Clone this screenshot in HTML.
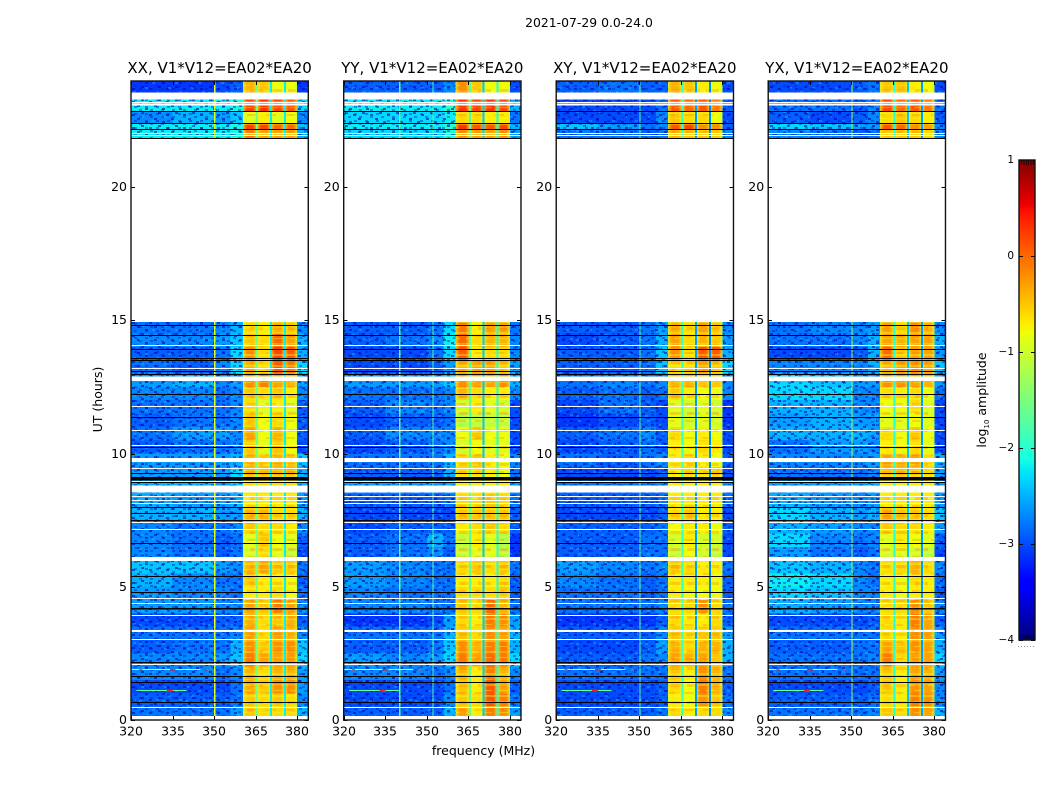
<!DOCTYPE html>
<html>
<head>
<meta charset="utf-8">
<title>Dynamic spectra 2021-07-29</title>
<style>
html,body{margin:0;padding:0;background:#fff;width:1050px;height:800px;overflow:hidden}
svg{display:block}
text{font-family:"DejaVu Sans","Liberation Sans",sans-serif;fill:#000}
</style>
</head>
<body>
<svg id="fig" width="1050" height="800" viewBox="0 0 1050 800" xmlns="http://www.w3.org/2000/svg">
<defs>
<pattern id="specA" width="17" height="13" patternUnits="userSpaceOnUse">
<g fill="#0000a8" fill-opacity="0.6"><rect x="1" y="1" width="3" height="2"/><rect x="9" y="4" width="3" height="2"/><rect x="5" y="8" width="3" height="2"/><rect x="13" y="10" width="3" height="2"/></g>
</pattern>
<pattern id="specB" width="23" height="19" patternUnits="userSpaceOnUse">
<g fill="#20c8ff" fill-opacity="0.35"><rect x="3" y="2" width="3" height="2"/><rect x="14" y="6" width="3" height="2"/><rect x="7" y="11" width="3" height="2"/><rect x="18" y="15" width="3" height="2"/><rect x="1" y="16" width="3" height="2"/></g>
</pattern>
<pattern id="specC" width="11" height="7" patternUnits="userSpaceOnUse">
<g fill="#0010c8" fill-opacity="0.42"><rect x="2" y="1" width="3" height="2"/><rect x="7" y="4" width="3" height="2"/></g>
</pattern>
<pattern id="bandStreakA" width="16" height="11" patternUnits="userSpaceOnUse">
<g fill="#f4ff30" fill-opacity="0.38"><rect x="0" y="2" width="16" height="2"/><rect x="2" y="8" width="10" height="1"/></g>
</pattern>
<pattern id="bandStreakB" width="19" height="17" patternUnits="userSpaceOnUse">
<g fill="#ff7000" fill-opacity="0.28"><rect x="3" y="4" width="13" height="3"/><rect x="0" y="12" width="10" height="2"/></g>
</pattern>
<linearGradient id="bandEdge" x1="0" x2="1" y1="0" y2="0">
<stop offset="0" stop-color="#d8ff30" stop-opacity="0.7"/>
<stop offset="0.28" stop-color="#e8ff30" stop-opacity="0"/>
<stop offset="0.72" stop-color="#e8ff30" stop-opacity="0"/>
<stop offset="1" stop-color="#b8ff50" stop-opacity="0.75"/>
</linearGradient>
</defs>
<text x="589" y="27" font-size="12.4" text-anchor="middle">2021-07-29 0.0-24.0</text>
<text x="483.500" y="755" font-size="12.5" text-anchor="middle">frequency (MHz)</text>
<text x="0" y="0" font-size="12.5" text-anchor="middle" transform="translate(102 399.500) rotate(-90)">UT (hours)</text>
<text x="0" y="0" font-size="12.5" text-anchor="middle" transform="translate(986 400) rotate(-90)">log<tspan font-size="7" dy="3">10</tspan><tspan dy="-3"> amplitude</tspan></text>
</svg>
<script>
var panelNames = ["XX", "YY", "XY", "YX"];
var panelLefts = [131, 343.7, 556.2, 768.2];
var xTickValues = [320, 335, 350, 365, 380];
var yTickValues = [0, 5, 10, 15, 20];
var colorbarTicks = [1, 0, -1, -2, -3, -4];

/* frequency bins (MHz) of each heatmap column */
var freqStart = [320, 335, 350, 356, 360.4, 365.5, 370.5, 375.5, 380];
var freqEnd = [335, 350, 356, 360.4, 365.5, 370.5, 375.5, 380, 384];
var offBandColumns = [0, 1, 2, 3, 8];
var offBandCalibration = -0.1;

/* UT bins (hours) of each heatmap row */
var utStart = [0,0.5,1,1.5,2,2.5,3,3.5,4,4.5,5,5.5,6,6.5,7,7.5,8,8.5,9,9.5,10,10.5,11,11.5,12,12.5,13,13.5,14,14.5,21.84,22.16,22.39,22.84,23.54];
var utEnd = [0.5,1,1.5,2,2.5,3,3.5,4,4.5,5,5.5,6,6.5,7,7.5,8,8.5,9,9.5,10,10.5,11,11.5,12,12.5,13,13.5,14,14.5,14.93,22.16,22.39,22.84,23.54,23.98];

/* log10 amplitude, one row per UT bin, one value per frequency bin */
var valuesXX = [
[-2.7,-2.7,-2.7,-2.5,-0.5,-0.6,-0.6,-0.6,-2.4],
[-2.8,-2.8,-2.8,-2.7,-0.5,-0.6,-0.5,-0.6,-2.6],
[-2.9,-2.9,-2.9,-2.7,-0.35,-0.5,-0.2,-0.2,-2.5],
[-2.6,-2.6,-2.7,-2.6,-0.4,-0.6,-0.4,-0.4,-2.5],
[-2.6,-2.6,-2.5,-2.3,-0.1,-0.3,-0.3,-0.3,-2.2],
[-2.8,-2.7,-2.7,-2.4,-0.2,-0.5,-0.2,-0.2,-2.3],
[-2.7,-2.7,-2.7,-2.6,-0.3,-0.6,-0.3,-0.4,-2.6],
[-2.9,-2.9,-2.8,-2.8,-0.4,-0.6,-0.5,-0.4,-2.8],
[-2.5,-2.5,-2.6,-2.6,-0.3,-0.5,-0.1,-0.3,-2.6],
[-2.5,-2.6,-2.6,-2.7,-0.7,-0.7,-0.6,-0.8,-2.7],
[-2.4,-2.6,-2.7,-2.7,-0.5,-0.7,-0.7,-0.8,-2.8],
[-2.3,-2.3,-2.5,-2.6,-0.4,-0.3,-0.5,-0.5,-2.7],
[-2.6,-2.7,-2.8,-2.7,-1,-0.6,-0.9,-1.1,-2.9],
[-2.6,-2.7,-2.8,-2.7,-0.9,-0.5,-0.8,-0.9,-2.8],
[-2.6,-2.7,-2.7,-2.6,-0.5,-0.6,-0.6,-0.7,-2.6],
[-2.4,-2.4,-2.5,-2.5,-0.4,-0.4,-0.6,-0.6,-2.4],
[-2.4,-2.5,-2.5,-2.4,-0.7,-0.7,-0.7,-0.7,-2.5],
[-2.4,-2.4,-2.5,-2.3,-0.6,-0.6,-0.6,-0.6,-2.4],
[-2.5,-2.5,-2.5,-2.2,-0.4,-0.4,-0.4,-0.4,-2.4],
[-2.5,-2.5,-2.5,-2.4,-0.4,-0.5,-0.4,-0.5,-2.3],
[-2.8,-2.7,-2.7,-2.6,-0.5,-0.9,-0.5,-0.8,-2.9],
[-2.7,-2.5,-2.5,-2.6,-0.3,-0.8,-0.4,-0.8,-2.8],
[-2.8,-2.7,-2.7,-2.6,-0.5,-0.8,-0.6,-0.8,-2.8],
[-2.7,-2.7,-2.7,-2.6,-0.6,-0.9,-0.7,-0.9,-2.8],
[-2.6,-2.6,-2.7,-2.6,-0.5,-0.6,-0.5,-0.7,-2.6],
[-2.5,-2.4,-2.6,-2.5,-0.2,-0.1,-0.3,-0.4,-2.5],
[-2.7,-2.8,-2.6,-2.2,-0.4,-0.6,0.1,-0.1,-2.2],
[-2.8,-2.8,-2.7,-2.2,-0.2,-0.6,0.2,0.1,-2.4],
[-2.6,-2.6,-2.5,-2.3,-0.5,-0.6,0,-0.3,-2.4],
[-2.7,-2.7,-2.6,-2.4,-0.6,-0.7,-0.4,-0.5,-2.6],
[-2.1,-2.1,-2.1,-2.0,-0.1,-0.3,-0.3,-0.3,-2.4],
[-2.1,-2.1,-2.1,-2.0,0.2,0.2,0,0,-2.3],
[-2.6,-2.4,-2.5,-2.3,-0.9,-0.7,-0.9,-0.8,-2.6],
[-2.1,-2.1,-2.1,-2.0,0.2,0.3,0.2,0.1,-2.2],
[-3,-3,-2.9,-2.8,-0.4,-0.5,-0.8,-0.8,-3]
];
var valuesYY = [
[-2.8,-2.8,-2.8,-2.4,-0.3,-0.7,-0.1,-0.2,-2.5],
[-2.9,-2.9,-2.9,-2.6,-0.5,-0.6,0.1,-0.1,-2.7],
[-2.9,-2.9,-2.9,-2.7,-0.5,-0.7,0.1,-0.3,-2.8],
[-2.6,-2.6,-2.7,-2.6,-0.4,-0.7,-0.1,-0.4,-2.6],
[-2.5,-2.6,-2.5,-2.2,-0.1,-0.3,0,-0.1,-2.2],
[-2.8,-2.8,-2.7,-2.3,-0.2,-0.4,-0.1,-0.1,-2.4],
[-2.7,-2.7,-2.7,-2.4,-0.5,-0.6,-0.2,-0.3,-2.4],
[-3,-3,-2.9,-2.5,-0.6,-0.7,-0.1,-0.2,-2.5],
[-2.6,-2.6,-2.7,-2.7,-0.5,-0.6,0,-0.4,-2.7],
[-2.6,-2.7,-2.7,-2.7,-0.6,-0.6,-0.6,-0.5,-2.8],
[-2.5,-2.6,-2.7,-2.7,-0.7,-0.7,-0.7,-0.6,-2.8],
[-2.5,-2.6,-2.7,-2.7,-0.6,-0.5,-0.6,-0.5,-2.7],
[-2.8,-2.7,-2.6,-2.8,-1.1,-0.9,-0.9,-1.2,-3],
[-2.8,-2.7,-2.4,-2.7,-1.1,-0.7,-0.9,-1.2,-3],
[-2.9,-2.8,-2.8,-2.8,-0.7,-0.6,-0.5,-0.6,-2.8],
[-2.9,-2.9,-2.9,-2.9,-0.5,-0.5,-0.5,-0.5,-2.8],
[-2.8,-2.8,-2.8,-2.7,-0.6,-0.6,-0.5,-0.6,-2.7],
[-2.5,-2.5,-2.5,-2.4,-0.7,-0.7,-0.7,-0.7,-2.5],
[-2.8,-2.8,-2.8,-2.4,-0.6,-0.6,-0.7,-0.8,-2.7],
[-2.7,-2.7,-2.7,-2.4,-0.6,-0.5,-0.7,-0.8,-2.6],
[-2.9,-2.8,-2.7,-2.6,-1,-0.8,-0.9,-0.9,-2.9],
[-2.8,-2.6,-2.6,-2.6,-0.8,-0.5,-0.8,-0.8,-2.9],
[-2.9,-2.8,-2.8,-2.7,-1.2,-1.1,-1.1,-1.1,-2.9],
[-2.8,-2.6,-2.7,-2.6,-1,-0.7,-0.9,-1,-2.9],
[-2.7,-2.7,-2.7,-2.6,-0.4,-0.6,-0.7,-0.7,-2.6],
[-2.5,-2.5,-2.5,-2.3,-0.2,-0.3,-0.3,-0.2,-2.4],
[-2.9,-2.9,-2.8,-2.5,-0.4,-0.3,-0.3,-0.5,-2.5],
[-2.9,-2.9,-2.7,-2.2,0.1,-0.7,-0.6,-0.6,-2.6],
[-2.8,-2.7,-2.6,-2.1,0,-0.6,-0.4,-0.4,-2.6],
[-2.8,-2.8,-2.7,-2.2,-0.1,-0.7,-0.3,-0.3,-2.7],
[-2.2,-2.2,-2.2,-2,-0.2,-0.3,-0.3,-0.2,-2.5],
[-2.1,-2.1,-2.1,-1.9,0.3,0.1,0.1,0.2,-2.4],
[-2.2,-2.2,-2.2,-2.1,-0.6,-0.6,-0.7,-0.7,-2.7],
[-2.1,-2.1,-2.1,-1.9,0.3,0.2,0.3,0.2,-2.4],
[-2.8,-2.8,-2.8,-2.6,-0.2,-0.5,-0.8,-0.8,-2.9]
];
var valuesXY = [
[-2.8,-2.8,-2.8,-2.7,-0.6,-0.7,-0.6,-0.6,-2.6],
[-2.9,-2.9,-2.9,-2.8,-0.7,-0.8,-0.2,-0.5,-2.7],
[-2.9,-2.9,-2.9,-2.8,-0.6,-0.8,-0.1,-0.4,-2.8],
[-2.7,-2.7,-2.7,-2.7,-0.5,-0.7,-0.2,-0.4,-2.7],
[-2.8,-2.8,-2.7,-2.6,-0.3,-0.4,-0.3,-0.5,-2.4],
[-2.9,-2.9,-2.8,-2.5,-0.4,-0.6,-0.4,-0.4,-2.4],
[-2.8,-2.8,-2.8,-2.6,-0.5,-0.6,-0.5,-0.5,-2.5],
[-3,-3,-3,-2.8,-0.6,-0.7,-0.7,-0.6,-2.8],
[-2.7,-2.7,-2.7,-2.6,-0.6,-0.6,-0.2,-0.6,-2.7],
[-2.7,-2.7,-2.8,-2.7,-0.7,-0.8,-0.8,-0.8,-2.8],
[-2.6,-2.7,-2.8,-2.7,-0.7,-0.7,-0.7,-0.8,-2.8],
[-2.5,-2.6,-2.7,-2.6,-0.5,-0.6,-0.7,-0.7,-2.7],
[-2.8,-2.8,-2.7,-2.7,-1.1,-0.8,-1,-1.1,-2.9],
[-2.8,-2.8,-2.7,-2.7,-1,-0.7,-1,-1,-2.9],
[-2.8,-2.8,-2.8,-2.7,-0.8,-0.7,-0.7,-0.8,-2.8],
[-2.9,-2.9,-2.9,-2.8,-0.6,-0.5,-0.7,-0.7,-2.9],
[-2.8,-2.8,-2.8,-2.7,-0.7,-0.7,-0.7,-0.7,-2.7],
[-2.7,-2.7,-2.7,-2.6,-0.7,-0.7,-0.7,-0.7,-2.6],
[-2.9,-2.9,-2.9,-2.8,-0.7,-0.6,-0.6,-0.5,-2.9],
[-2.7,-2.8,-2.7,-2.6,-0.7,-0.6,-0.7,-0.8,-2.8],
[-2.9,-2.8,-2.7,-2.8,-0.7,-0.8,-0.6,-0.7,-2.9],
[-2.8,-2.7,-2.6,-2.8,-0.6,-0.8,-0.7,-0.8,-2.9],
[-3,-2.9,-2.8,-2.9,-0.9,-1,-0.9,-1,-3],
[-2.9,-2.7,-2.8,-2.9,-0.9,-1,-0.9,-1,-3],
[-2.8,-2.7,-2.8,-2.7,-0.5,-0.7,-0.8,-0.8,-2.6],
[-2.7,-2.6,-2.7,-2.6,-0.4,-0.4,-0.5,-0.5,-2.6],
[-2.8,-2.8,-2.7,-2.3,-0.6,-0.6,-0.3,-0.5,-2.2],
[-2.8,-2.8,-2.7,-2.3,-0.2,-0.6,0.1,0.1,-2.4],
[-2.9,-2.8,-2.7,-2.4,-0.3,-0.6,-0.4,-0.5,-2.5],
[-2.8,-2.8,-2.7,-2.5,-0.4,-0.6,-0.3,-0.5,-2.6],
[-2.7,-2.7,-2.8,-2.7,-0.4,-0.5,-0.5,-0.5,-2.6],
[-2.3,-2.5,-2.7,-2.6,0.1,0.2,-0.2,-0.2,-2.8],
[-2.9,-2.9,-2.9,-2.6,-0.5,-0.6,-0.6,-0.8,-2.9],
[-2.9,-2.9,-2.9,-2.7,0.1,0,0.1,-0.1,-2.8],
[-2.8,-2.7,-2.8,-2.8,-0.4,-0.5,-0.7,-0.8,-2.9]
];
var valuesYX = [
[-2.7,-2.7,-2.7,-2.6,-0.5,-0.6,-0.2,-0.3,-2.4],
[-2.8,-2.8,-2.8,-2.7,-0.6,-0.7,-0.1,-0.2,-2.6],
[-2.9,-2.9,-2.9,-2.8,-0.5,-0.7,-0.2,-0.3,-2.6],
[-2.7,-2.7,-2.7,-2.7,-0.5,-0.7,-0.3,-0.4,-2.5],
[-2.7,-2.7,-2.7,-2.6,-0.1,-0.6,-0.3,-0.3,-2.2],
[-2.8,-2.8,-2.7,-2.7,-0.3,-0.5,-0.2,-0.3,-2.4],
[-2.7,-2.7,-2.7,-2.7,-0.6,-0.7,-0.2,-0.3,-2.5],
[-2.9,-2.9,-2.9,-2.8,-0.6,-0.7,-0.1,-0.3,-2.8],
[-2.4,-2.5,-2.6,-2.6,-0.6,-0.6,-0.2,-0.5,-2.6],
[-2.2,-2.3,-2.6,-2.6,-0.7,-0.8,-0.7,-0.7,-2.8],
[-2.1,-2.2,-2.6,-2.7,-0.7,-0.8,-0.6,-0.7,-2.7],
[-2.3,-2.4,-2.6,-2.7,-0.6,-0.6,-0.4,-0.6,-2.6],
[-2.5,-2.7,-2.8,-2.7,-1,-0.9,-1,-1.1,-2.9],
[-2.2,-2.6,-2.7,-2.6,-0.9,-0.7,-0.8,-0.9,-2.8],
[-2.4,-2.5,-2.6,-2.6,-0.5,-0.6,-0.6,-0.7,-2.5],
[-2.2,-2.4,-2.5,-2.4,-0.3,-0.5,-0.5,-0.6,-2.3],
[-2.4,-2.5,-2.6,-2.5,-0.7,-0.7,-0.7,-0.7,-2.5],
[-2.5,-2.5,-2.5,-2.4,-0.7,-0.7,-0.7,-0.7,-2.5],
[-2.7,-2.7,-2.7,-2.6,-0.4,-0.4,-0.5,-0.6,-2.5],
[-2.6,-2.6,-2.6,-2.5,-0.3,-0.4,-0.3,-0.6,-2.4],
[-2.7,-2.5,-2.5,-2.6,-0.7,-0.8,-0.6,-0.9,-2.9],
[-2.4,-2.4,-2.4,-2.5,-0.6,-0.8,-0.5,-0.8,-2.9],
[-2.5,-2.4,-2.5,-2.5,-0.9,-0.9,-0.8,-0.9,-2.9],
[-2.4,-2.4,-2.6,-2.6,-0.8,-0.8,-0.6,-0.9,-2.9],
[-2.2,-2.2,-2.6,-2.6,-0.6,-0.7,-0.6,-0.8,-2.7],
[-2.2,-2.3,-2.5,-2.5,-0.2,-0.2,-0.3,-0.4,-2.5],
[-2.6,-2.6,-2.6,-2.4,-0.4,-0.3,-0.2,-0.3,-2.3],
[-2.9,-2.9,-2.8,-2.4,0,-0.5,-0.3,-0.3,-2.5],
[-2.7,-2.7,-2.6,-2.4,-0.3,-0.4,-0.3,-0.3,-2.4],
[-2.7,-2.6,-2.6,-2.5,-0.3,-0.6,-0.2,-0.4,-2.6],
[-2.6,-2.7,-2.8,-2.7,-0.5,-0.5,-0.5,-0.6,-2.6],
[-2.2,-2.3,-2.5,-2.5,0.1,0,-0.2,-0.3,-2.6],
[-2.8,-2.9,-2.8,-2.6,-0.6,-0.5,-0.6,-0.7,-2.8],
[-2.7,-2.7,-2.8,-2.6,0.2,0,0.1,-0.1,-2.7],
[-2.9,-2.9,-2.8,-2.7,-0.5,-0.5,-0.7,-0.8,-2.9]
];
var panelValues = [valuesXX, valuesYY, valuesXY, valuesYX];

/* narrow channels: frequency and log10 amplitude per panel */
var narrowFreqs = [[350, 365, 370, 375], [340, 352, 365, 370, 375], [350, 365, 370, 375], [350, 365, 370, 375]];
var narrowLevels = [[-0.9, -1.5, -2.2, -2.2], [-1.7, -1.8, -1.7, -2.4, -2.0], [-1.8, -1.9, -2.6, -2.7], [-1.3, -2.0, -2.4, -2.6]];

/* narrow interference in time: UT, start MHz, end MHz, log10 amplitude */
var rfiUT = [1.92, 1.13];
var rfiStart = [320, 322];
var rfiEnd = [345, 340];
var rfiLevel = [-0.9, -1.6];
var spotUT = [1.92, 1.92, 1.92, 1.13, 1.13, 1.92];
var spotFreq = [323, 334, 335, 333, 334, 347];
var spotLevel = [0.2, 0.4, 0.3, 0.4, 0.3, 0.1];

/* flagged (no data) spans, in UT hours */
var blankStart = [0, 3.30, 5.96, 8.53, 9.69, 12.72, 23.06, 23.29];
var blankEnd = [0.15, 3.38, 6.11, 8.79, 9.83, 12.88, 23.14, 23.54];
var blankLines = [0.477, 2.10, 3.04, 3.95, 4.38, 4.57, 7.16, 7.43, 8.14, 8.24, 8.41, 8.98, 9.46, 10.31, 10.88, 11.79, 13.22, 14.06, 21.94, 22.01, 23.20];
var darkStart = [4.15, 8.98];
var darkEnd = [4.21, 9.12];
var darkLines = [0.687, 1.415, 1.65, 2.19, 4.79, 5.39, 6.63, 7.50, 7.76, 7.98, 8.94, 9.28, 10.24, 11.36, 12.22, 12.97, 13.10, 13.50, 13.60, 13.91, 14.43, 14.82, 21.84, 22.16, 22.39, 22.84];

var svgNS = "http://www.w3.org/2000/svg";
var fig = document.getElementById("fig");
var PX_PER_MHZ = 2.77, PX_PER_HOUR = 26.65, Y0 = 720, AXIS_TOP = 81, F_MAX = 384;
var dataSpans = [[0, 14.93], [21.84, 23.98]];

function xScale(panel, f) { return panelLefts[panel] + (f - 320) * PX_PER_MHZ; }
function yScale(ut) { return Y0 - ut * PX_PER_HOUR; }
function cbScale(v) { return 160 + (1 - v) * 96; }

function clamp01(v) { return Math.max(0, Math.min(1, v)); }
function jet(v) {
  var t = clamp01((v + 4) / 5);
  var r = clamp01(Math.min((t - 0.35) / 0.31, 1 - (t - 0.89) / 0.11 * 0.5));
  var g = clamp01(Math.min((t - 0.125) / 0.25, (0.91 - t) / 0.27));
  var b = clamp01(Math.min(0.5 + t / 0.22, (0.65 - t) / 0.31));
  return "rgb(" + Math.round(r * 255) + "," + Math.round(g * 255) + "," + Math.round(b * 255) + ")";
}
function box(parent, x, y, w, h, fill) {
  var el = document.createElementNS(svgNS, "rect");
  el.setAttribute("x", x);
  el.setAttribute("y", y);
  el.setAttribute("width", w);
  el.setAttribute("height", h);
  el.setAttribute("fill", fill);
  el.setAttribute("shape-rendering", "crispEdges");
  parent.appendChild(el);
  return el;
}
function label(parent, x, y, str, size, anchor) {
  var el = document.createElementNS(svgNS, "text");
  el.setAttribute("x", x);
  el.setAttribute("y", y);
  el.setAttribute("font-size", size);
  el.setAttribute("text-anchor", anchor);
  el.textContent = str;
  parent.appendChild(el);
  return el;
}

panelNames.forEach(function (name, p) {
  var g = document.createElementNS(svgNS, "g");
  
  
  fig.appendChild(g);
  var left = xScale(p, 320), right = xScale(p, F_MAX);

  /* heatmap cells */
  panelValues[p].forEach(function (row, r) {
    row.forEach(function (v, c) {
      var x0 = xScale(p, freqStart[c]), x1 = xScale(p, freqEnd[c]);
      var y0 = yScale(utEnd[r]), y1 = yScale(utStart[r]);
      var shown = offBandColumns.indexOf(c) >= 0 ? v + offBandCalibration : v;
      var cell = box(g, x0, y0, x1 - x0, y1 - y0, jet(shown));
      
      
    });
  });

  /* fine-grain mottling over the off-band channels, streaks inside the band */
  dataSpans.forEach(function (span) {
    var top = yScale(span[1]), h = yScale(span[0]) - top;
    [[320, 360.4], [380, F_MAX]].forEach(function (fr) {
      ["url(#specA)", "url(#specB)", "url(#specC)"].forEach(function (fill) {
        var sx = xScale(p, fr[0]);
        var tex = box(g, sx, top, xScale(p, fr[1]) - sx, h, fill);
        
        
      });
    });
    ["url(#bandStreakA)", "url(#bandStreakB)"].forEach(function (fill) {
      var sx = xScale(p, 360.4);
      var st = box(g, sx, top, xScale(p, 380) - sx, h, fill);
      
      
    });
    [4, 5, 6, 7].forEach(function (c) {
      var bx = xScale(p, freqStart[c]);
      var edge = box(g, bx, top, xScale(p, freqEnd[c]) - bx, h, "url(#bandEdge)");
      
      
    });
  });

  /* narrow channels */
  narrowFreqs[p].forEach(function (f, i) {
    dataSpans.forEach(function (span) {
      var w = f >= 365 ? 2 : 1.2;
      var line = box(g, xScale(p, f >= 365 ? f + 0.15 : f), yScale(span[1]), w, yScale(span[0]) - yScale(span[1]), jet(narrowLevels[p][i]));
      
      
    });
  });

  /* narrow interference rows */
  rfiUT.forEach(function (ut, i) {
    var hot = box(g, xScale(p, rfiStart[i]), Math.round(yScale(ut)), xScale(p, rfiEnd[i]) - xScale(p, rfiStart[i]), 1, jet(rfiLevel[i]));
    
    
  });
  spotUT.forEach(function (ut, i) {
    var spot = box(g, xScale(p, spotFreq[i]), Math.round(yScale(ut)), 3, 1.4, jet(spotLevel[i]));
    
    
  });

  /* flagged spans */
  blankStart.forEach(function (s, i) {
    var b = box(g, left, yScale(blankEnd[i]), right - left, yScale(s) - yScale(blankEnd[i]), "#fff");
    
    
  });
  blankLines.forEach(function (ut) {
    var b = box(g, left, Math.round(yScale(ut)), right - left, 1, "#fff");
    
    
  });
  darkStart.forEach(function (s, i) {
    var b = box(g, left, yScale(darkEnd[i]), right - left, yScale(s) - yScale(darkEnd[i]), "#000");
    
    
  });
  darkLines.forEach(function (ut) {
    var b = box(g, left, Math.round(yScale(ut)), right - left, 1, "#000");
    
    
  });

  /* ticks and tick labels */
  xTickValues.forEach(function (f) {
    var x = Math.round(xScale(p, f));
    var t1 = box(g, x, Y0 - 4, 1, 4, "#000");
    
    
    var t2 = box(g, x, AXIS_TOP, 1, 4, "#000");
    
    
    var tl = label(g, x, 735.5, String(f), 12.5, "middle");
    
    
  });
  yTickValues.forEach(function (u) {
    var y = Math.round(yScale(u));
    var t1 = box(g, left, y, 4, 1, "#000");
    
    
    var t2 = box(g, right - 4, y, 4, 1, "#000");
    
    
    var tl = label(g, left - 4, y + 4, String(u), 12.5, "end");
    
    
  });

  /* frame */
  var frame = document.createElementNS(svgNS, "rect");
  frame.setAttribute("x", left);
  frame.setAttribute("y", AXIS_TOP);
  frame.setAttribute("width", right - left);
  frame.setAttribute("height", Y0 - AXIS_TOP);
  frame.setAttribute("fill", "none");
  frame.setAttribute("stroke", "#111");
  frame.setAttribute("stroke-width", "1.4");
  
  
  g.appendChild(frame);

  var title = label(g, (left + right) / 2, 73, name + ", V1*V12=EA02*EA20", 15, "middle");
  
  
});

/* colorbar */
var cb = document.createElementNS(svgNS, "g");


fig.appendChild(cb);
for (var i = 0; i < 240; i++) {
  var v0 = 1 - i * 5 / 240;
  var seg = box(cb, 1019, cbScale(v0), 16, 2.4, jet(v0 - 0.01));
  
  
}
for (var m = 0; m < 6; m++) {
  var minorTop = box(cb, 1021 + m * 2.4, 160, 1, 5, "#300000");
  
  
  var minorBottom = box(cb, 1021 + m * 2.4, 635, 1, 5, "#000030");
  
  
  var dot = box(cb, 1018 + m * 3, 646, 1, 1, "#999");
  
  
}
colorbarTicks.forEach(function (v) {
  var y = Math.round(cbScale(v));
  var t1 = box(cb, 1019, y, 4, 1, "#000");
  
  
  var t2 = box(cb, 1031, y, 4, 1, "#000");
  
  
  var txt = v < 0 ? "\u2212" + Math.abs(v) : String(v);
  var tl = label(cb, 1014, y + 3, txt, 10.5, "end");
  
  
});
var cbFrame = document.createElementNS(svgNS, "rect");
cbFrame.setAttribute("x", 1019);
cbFrame.setAttribute("y", 160);
cbFrame.setAttribute("width", 16);
cbFrame.setAttribute("height", 480);
cbFrame.setAttribute("fill", "none");
cbFrame.setAttribute("stroke", "#111");
cbFrame.setAttribute("stroke-width", "1.4");


cb.appendChild(cbFrame);
</script>
</body>
</html>
